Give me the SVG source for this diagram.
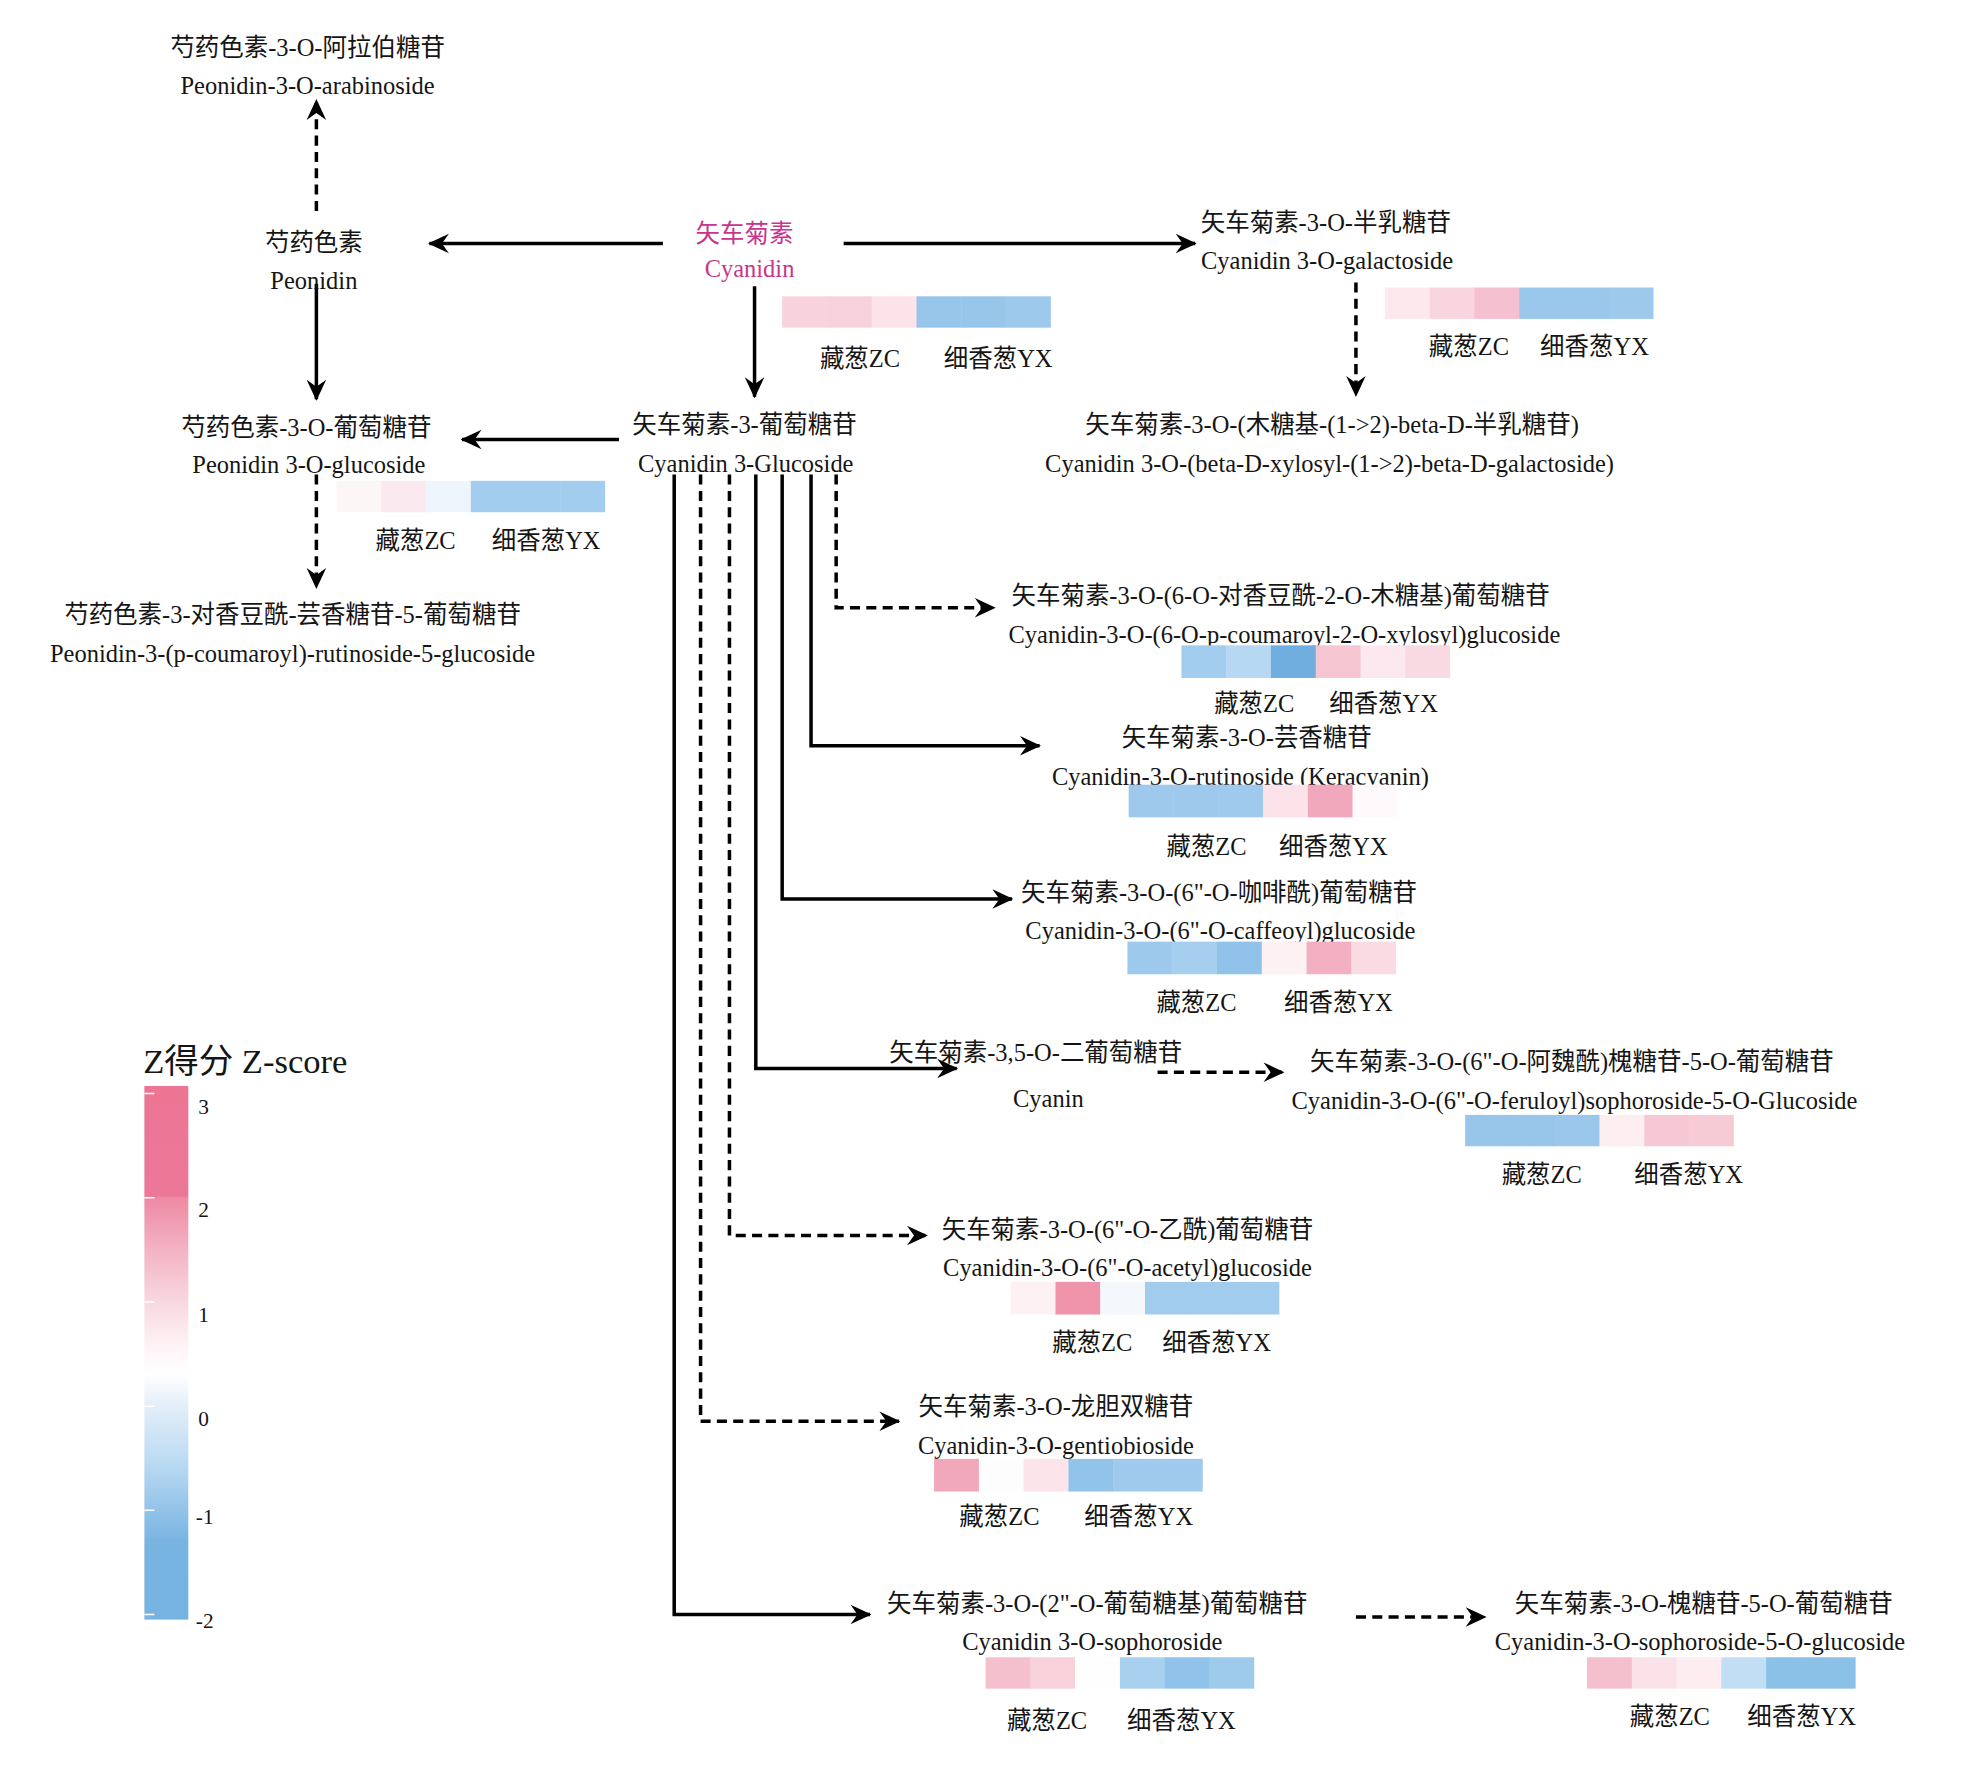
<svg xmlns="http://www.w3.org/2000/svg" width="1968" height="1780" viewBox="0 0 1968 1780">
<defs>
<style>
.t{font-family:"Liberation Serif","Noto Sans CJK SC",serif;font-size:19.5px;fill:#151515;text-anchor:middle}
.pk{fill:#c8358c}
.lg{font-family:"Liberation Serif","Noto Sans CJK SC",serif;font-size:17px;fill:#151515}
.ttl{font-family:"Liberation Serif","Noto Sans CJK SC",serif;font-size:27.5px;fill:#151515}
.s{fill:none;stroke:#000;stroke-width:2.8;marker-end:url(#ah)}
.d{fill:none;stroke:#000;stroke-width:2.8;stroke-dasharray:8 5;marker-end:url(#ah)}
</style>
<marker id="ah" markerUnits="userSpaceOnUse" markerWidth="20" markerHeight="20" viewBox="-16 -8 18 16" refX="0" refY="0" orient="auto">
<path d="M1,0 L-14,-7 L-9,0 L-14,7 Z" fill="#000"/>
</marker>
<linearGradient id="zg" x1="0" y1="0" x2="0" y2="1">
<stop offset="0" stop-color="#ec7594"/>
<stop offset="0.17" stop-color="#ec7797"/>
<stop offset="0.205" stop-color="#ec7797"/>
<stop offset="0.21" stop-color="#ee8aa3"/>
<stop offset="0.307" stop-color="#f3b3c4"/>
<stop offset="0.405" stop-color="#f8d8e1"/>
<stop offset="0.50" stop-color="#fff7f9"/>
<stop offset="0.54" stop-color="#ffffff"/>
<stop offset="0.60" stop-color="#e3eef9"/>
<stop offset="0.698" stop-color="#bddcf2"/>
<stop offset="0.795" stop-color="#93c3e9"/>
<stop offset="0.854" stop-color="#78b4e0"/>
<stop offset="1" stop-color="#76b3e0"/>
</linearGradient>
</defs>
<rect width="1968" height="1780" fill="#fff"/>
<g transform="scale(1.2555)">

<g id="connectors">
<path class="d" d="M252,168 V80"/>
<path class="s" d="M528,194 H342"/>
<path class="s" d="M252,226 V318"/>
<path class="s" d="M672,194 H952"/>
<path class="s" d="M601,228 V316"/>
<path class="d" d="M1080,225 V315"/>
<path class="s" d="M493,350 H368"/>
<path class="d" d="M252,378 V468"/>
<path class="d" d="M666,378 V484 H792"/>
<path class="s" d="M646,378 V594 H828"/>
<path class="s" d="M623,378 V716 H806"/>
<path class="s" d="M602,378 V851 H762"/>
<path class="d" d="M581,378 V984 H738"/>
<path class="d" d="M558,378 V1132 H716"/>
<path class="s" d="M537,378 V1286 H693"/>
<path class="d" d="M922,854 H1022"/>
<path class="d" d="M1080,1288 H1183"/>
</g>

<g id="n-peonidin-arabinoside">
<text class="t" x="245" y="45">芍药色素-3-O-阿拉伯糖苷</text>
<text class="t" x="245" y="75">Peonidin-3-O-arabinoside</text>
</g>

<g id="n-peonidin">
<text class="t" x="250" y="200">芍药色素</text>
<text class="t" x="250" y="230">Peonidin</text>
</g>

<g id="n-cyanidin">
<text class="t pk" x="593" y="193">矢车菊素</text>
<text class="t pk" x="597" y="221">Cyanidin</text>
<g transform="translate(623,236)">
<rect x="0" width="36" height="25" fill="#f8d2dc"/><rect x="35.7" width="36" height="25" fill="#f6d2dc"/><rect x="71.3" width="36" height="25" fill="#fbe3e9"/><rect x="107" width="36" height="25" fill="#98c6eb"/><rect x="142.7" width="36" height="25" fill="#98c6eb"/><rect x="178.3" width="35.7" height="25" fill="#9dc9ec"/>
</g>
<text class="t" x="685" y="292">藏葱ZC</text><text class="t" x="795" y="292">细香葱YX</text>
</g>

<g id="n-cyanidin-galactoside">
<text class="t" x="1056" y="184">矢车菊素-3-O-半乳糖苷</text>
<text class="t" x="1057" y="214">Cyanidin 3-O-galactoside</text>
<g transform="translate(1103,229)">
<rect x="0" width="36" height="25" fill="#fde8ee"/><rect x="35.7" width="36" height="25" fill="#f9d5df"/><rect x="71.3" width="36" height="25" fill="#f5c0cf"/><rect x="107" width="36" height="25" fill="#9ac8ec"/><rect x="142.7" width="36" height="25" fill="#9ac8ec"/><rect x="178.3" width="35.7" height="25" fill="#9cc9ec"/>
</g>
<text class="t" x="1170" y="283">藏葱ZC</text><text class="t" x="1270" y="283">细香葱YX</text>
</g>

<g id="n-cyanidin-xylosyl-galactoside">
<text class="t" x="1061" y="345">矢车菊素-3-O-(木糖基-(1-&gt;2)-beta-D-半乳糖苷)</text>
<text class="t" x="1059" y="376">Cyanidin 3-O-(beta-D-xylosyl-(1-&gt;2)-beta-D-galactoside)</text>
</g>

<g id="n-cyanidin-3-glucoside">
<text class="t" x="593" y="345">矢车菊素-3-葡萄糖苷</text>
<text class="t" x="594" y="376">Cyanidin 3-Glucoside</text>
</g>

<g id="n-peonidin-glucoside">
<text class="t" x="244" y="347">芍药色素-3-O-葡萄糖苷</text>
<text class="t" x="246" y="377">Peonidin 3-O-glucoside</text>
<g transform="translate(268,383)">
<rect x="0" width="36" height="25" fill="#fdf6f7"/><rect x="35.7" width="36" height="25" fill="#fae9ee"/><rect x="71.3" width="36" height="25" fill="#eff5fc"/><rect x="107" width="36" height="25" fill="#a3cdee"/><rect x="142.7" width="36" height="25" fill="#a3cdee"/><rect x="178.3" width="35.7" height="25" fill="#a3cdee"/>
</g>
<text class="t" x="331" y="437">藏葱ZC</text><text class="t" x="435" y="437">细香葱YX</text>
</g>

<g id="n-peonidin-coumaroyl">
<text class="t" x="233" y="496">芍药色素-3-对香豆酰-芸香糖苷-5-葡萄糖苷</text>
<text class="t" x="233" y="527">Peonidin-3-(p-coumaroyl)-rutinoside-5-glucoside</text>
</g>

<g id="n-coumaroyl-xylosyl">
<text class="t" x="1020" y="481">矢车菊素-3-O-(6-O-对香豆酰-2-O-木糖基)葡萄糖苷</text>
<text class="t" x="1023" y="512">Cyanidin-3-O-(6-O-p-coumaroyl-2-O-xylosyl)glucoside</text>
<g transform="translate(941,514)">
<rect x="0" width="36" height="26" fill="#a3cdee"/><rect x="35.7" width="36" height="26" fill="#b7d8f2"/><rect x="71.3" width="36" height="26" fill="#71aee0"/><rect x="107" width="36" height="26" fill="#f5c5d2"/><rect x="142.7" width="36" height="26" fill="#fce8ee"/><rect x="178.3" width="35.7" height="26" fill="#f9d9e2"/>
</g>
<text class="t" x="999" y="567">藏葱ZC</text><text class="t" x="1102" y="567">细香葱YX</text>
</g>

<g id="n-rutinoside">
<text class="t" x="993" y="594">矢车菊素-3-O-芸香糖苷</text>
<text class="t" x="988" y="625">Cyanidin-3-O-rutinoside (Keracyanin)</text>
<g transform="translate(899,625)">
<rect x="0" width="36" height="26" fill="#9ec9ec"/><rect x="35.7" width="36" height="26" fill="#9ec9ec"/><rect x="71.3" width="36" height="26" fill="#9fcaed"/><rect x="107" width="36" height="26" fill="#fce3ea"/><rect x="142.7" width="36" height="26" fill="#f2a8bc"/><rect x="178.3" width="35.7" height="26" fill="#fefafb"/>
</g>
<text class="t" x="961" y="681">藏葱ZC</text><text class="t" x="1062" y="681">细香葱YX</text>
</g>

<g id="n-caffeoyl">
<text class="t" x="971" y="718">矢车菊素-3-O-(6"-O-咖啡酰)葡萄糖苷</text>
<text class="t" x="972" y="748">Cyanidin-3-O-(6"-O-caffeoyl)glucoside</text>
<g transform="translate(898,750)">
<rect x="0" width="36" height="26" fill="#9dc9ec"/><rect x="35.7" width="36" height="26" fill="#a5ceef"/><rect x="71.3" width="36" height="26" fill="#90c2ea"/><rect x="107" width="36" height="26" fill="#fdf1f4"/><rect x="142.7" width="36" height="26" fill="#f2b0c2"/><rect x="178.3" width="35.7" height="26" fill="#fadbe3"/>
</g>
<text class="t" x="953" y="805">藏葱ZC</text><text class="t" x="1066" y="805">细香葱YX</text>
</g>

<g id="n-cyanin">
<text class="t" x="825" y="845">矢车菊素-3,5-O-二葡萄糖苷</text>
<text class="t" x="835" y="882">Cyanin</text>
</g>

<g id="n-feruloyl">
<text class="t" x="1252" y="852">矢车菊素-3-O-(6"-O-阿魏酰)槐糖苷-5-O-葡萄糖苷</text>
<text class="t" x="1254" y="883">Cyanidin-3-O-(6"-O-feruloyl)sophoroside-5-O-Glucoside</text>
<g transform="translate(1167,888)">
<rect x="0" width="36" height="25" fill="#98c6eb"/><rect x="35.7" width="36" height="25" fill="#98c6eb"/><rect x="71.3" width="36" height="25" fill="#9ac7eb"/><rect x="107" width="36" height="25" fill="#fdeef2"/><rect x="142.7" width="36" height="25" fill="#f6c7d4"/><rect x="178.3" width="35.7" height="25" fill="#f7cbd6"/>
</g>
<text class="t" x="1228" y="942">藏葱ZC</text><text class="t" x="1345" y="942">细香葱YX</text>
</g>

<g id="n-acetyl">
<text class="t" x="898" y="986">矢车菊素-3-O-(6"-O-乙酰)葡萄糖苷</text>
<text class="t" x="898" y="1016">Cyanidin-3-O-(6"-O-acetyl)glucoside</text>
<g transform="translate(805,1021)">
<rect x="0" width="36" height="26" fill="#fdf1f4"/><rect x="35.7" width="36" height="26" fill="#ee93aa"/><rect x="71.3" width="36" height="26" fill="#f4f8fd"/><rect x="107" width="36" height="26" fill="#a1ccee"/><rect x="142.7" width="36" height="26" fill="#a1ccee"/><rect x="178.3" width="35.7" height="26" fill="#a1ccee"/>
</g>
<text class="t" x="870" y="1076">藏葱ZC</text><text class="t" x="969" y="1076">细香葱YX</text>
</g>

<g id="n-gentiobioside">
<text class="t" x="841" y="1127">矢车菊素-3-O-龙胆双糖苷</text>
<text class="t" x="841" y="1158">Cyanidin-3-O-gentiobioside</text>
<g transform="translate(744,1162)">
<rect x="0" width="36" height="26" fill="#f2a8bb"/><rect x="35.7" width="36" height="26" fill="#fefdfd"/><rect x="71.3" width="36" height="26" fill="#fbe5eb"/><rect x="107" width="36" height="26" fill="#92c4ea"/><rect x="142.7" width="36" height="26" fill="#9fcaed"/><rect x="178.3" width="35.7" height="26" fill="#9fcaed"/>
</g>
<text class="t" x="796" y="1215">藏葱ZC</text><text class="t" x="907" y="1215">细香葱YX</text>
</g>

<g id="n-sophoroside">
<text class="t" x="874" y="1284">矢车菊素-3-O-(2"-O-葡萄糖基)葡萄糖苷</text>
<text class="t" x="870" y="1314">Cyanidin 3-O-sophoroside</text>
<g transform="translate(785,1320)">
<rect x="0" width="36" height="25" fill="#f5c0cd"/><rect x="35.7" width="36" height="25" fill="#f8d1db"/><rect x="71.3" width="36" height="25" fill="#fffefe"/><rect x="107" width="36" height="25" fill="#a8d0ef"/><rect x="142.7" width="36" height="25" fill="#90c2ea"/><rect x="178.3" width="35.7" height="25" fill="#9ecaec"/>
</g>
<text class="t" x="834" y="1377">藏葱ZC</text><text class="t" x="941" y="1377">细香葱YX</text>
</g>

<g id="n-sophoroside-5-glucoside">
<text class="t" x="1357" y="1284">矢车菊素-3-O-槐糖苷-5-O-葡萄糖苷</text>
<text class="t" x="1354" y="1314">Cyanidin-3-O-sophoroside-5-O-glucoside</text>
<g transform="translate(1264,1320)">
<rect x="0" width="36" height="25" fill="#f4c0ce"/><rect x="35.7" width="36" height="25" fill="#fbe1e8"/><rect x="71.3" width="36" height="25" fill="#fdedf1"/><rect x="107" width="36" height="25" fill="#c1def4"/><rect x="142.7" width="36" height="25" fill="#8bc0e7"/><rect x="178.3" width="35.7" height="25" fill="#8bc0e7"/>
</g>
<text class="t" x="1330" y="1374">藏葱ZC</text><text class="t" x="1435" y="1374">细香葱YX</text>
</g>

<g id="legend">
<text class="ttl" x="114" y="855">Z得分 Z-score</text>
<rect x="115" y="865" width="35" height="425" fill="url(#zg)"/>
<g stroke="#fff" stroke-width="1.2">
<path d="M115,871 h8 M115,954 h8 M115,1037 h8 M115,1120 h8 M115,1203 h8 M115,1286 h8"/>
</g>
<text class="lg" x="158" y="887">3</text>
<text class="lg" x="158" y="969">2</text>
<text class="lg" x="158" y="1053">1</text>
<text class="lg" x="158" y="1136">0</text>
<text class="lg" x="156" y="1214">-1</text>
<text class="lg" x="156" y="1297">-2</text>
</g>

</g>
</svg>
